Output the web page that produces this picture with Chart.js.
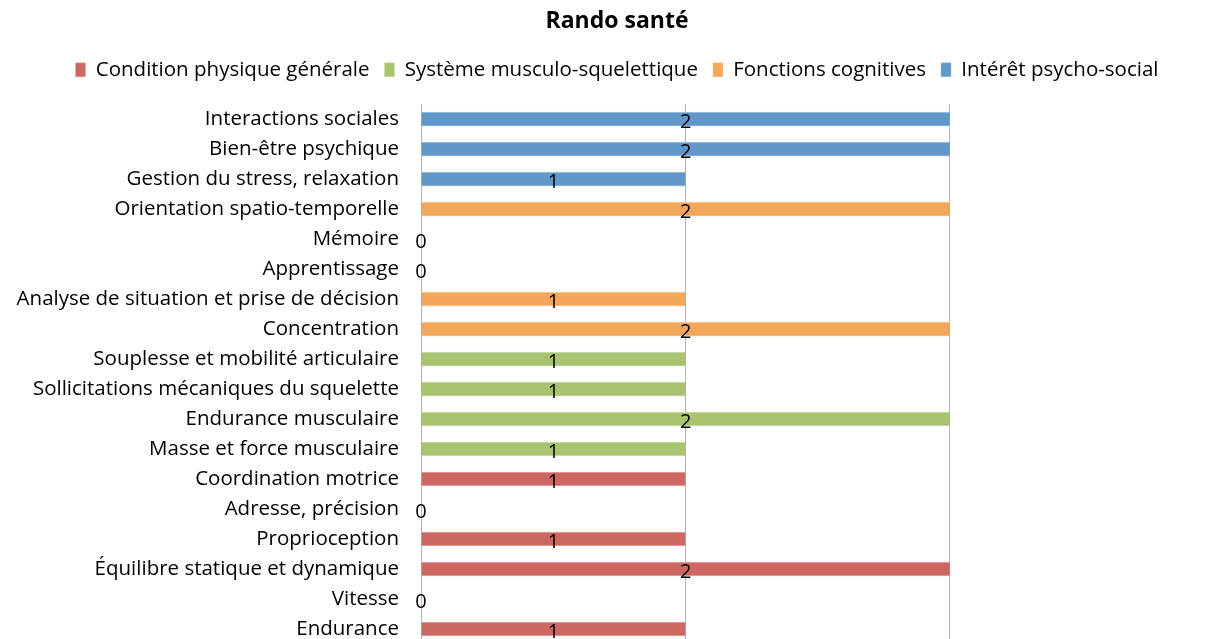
<!DOCTYPE html>
<html>
<head>
<meta charset="utf-8">
<script src="https://cdn.jsdelivr.net/npm/chart.js@4/dist/chart.umd.min.js"></script>
<style>
  html, body { margin: 0; padding: 0; background: #fff; overflow: hidden; }
  #wrap { width: 1234px; height: 684px; }
</style>
</head>
<body>
<div id="wrap"><canvas id="c" width="1234" height="684"></canvas></div>
<script>
// Health benefits of "Rando santé", scored 0–2, grouped by theme
const categories = [
  'Interactions sociales',
  'Bien-être psychique',
  'Gestion du stress, relaxation',
  'Orientation spatio-temporelle',
  'Mémoire',
  'Apprentissage',
  'Analyse de situation et prise de décision',
  'Concentration',
  'Souplesse et mobilité articulaire',
  'Sollicitations mécaniques du squelette',
  'Endurance musculaire',
  'Masse et force musculaire',
  'Coordination motrice',
  'Adresse, précision',
  'Proprioception',
  'Équilibre statique et dynamique',
  'Vitesse',
  'Endurance'
];

const seriesNames = [
  'Condition physique générale',
  'Système musculo-squelettique',
  'Fonctions cognitives',
  'Intérêt psycho-social'
];

const conditionPhysique = [null, null, null, null, null, null, null, null, null, null, null, null, 1, 0, 1, 2, 0, 1];
const musculoSquelettique = [null, null, null, null, null, null, null, null, 1, 1, 2, 1, null, null, null, null, null, null];
const fonctionsCognitives = [null, null, null, 2, 0, 0, 1, 2, null, null, null, null, null, null, null, null, null, null];
const psychoSocial = [2, 2, 1, null, null, null, null, null, null, null, null, null, null, null, null, null, null, null];

const xTicks = [0, 1, 2, 3];

const colors = ['#CD6762', '#A9C46E', '#F3A75A', '#6297CA'];
const edgeColors = ['#E3A8A5', '#CFDFB0', '#F8CFA3', '#A9C4E2'];

const seriesData = [conditionPhysique, musculoSquelettique, fonctionsCognitives, psychoSocial];

const FONT = '"Open Sans", Lato, sans-serif';

// Extra gap between the legend and the plot
const legendGap = {
  id: 'legendGap',
  beforeInit(chart) {
    const fit = chart.legend.fit;
    chart.legend.fit = function () {
      fit.call(this);
      this.height += 14;
    };
  }
};

// Value labels drawn in the middle of each bar
const valueLabels = {
  id: 'valueLabels',
  afterDatasetsDraw(chart) {
    const ctx = chart.ctx;
    ctx.save();
    ctx.font = '20px ' + FONT;
    ctx.fillStyle = '#000';
    ctx.textAlign = 'center';
    ctx.textBaseline = 'middle';
    chart.data.datasets.forEach((ds, i) => {
      const meta = chart.getDatasetMeta(i);
      meta.data.forEach((bar, j) => {
        const v = ds.data[j];
        if (v === null || v === undefined) return;
        const props = bar.getProps(['x', 'y', 'base'], true);
        const cx = (props.x + props.base) / 2;
        ctx.fillText(String(v), cx, props.y + 3);
      });
    });
    ctx.restore();
  }
};

new Chart(document.getElementById('c'), {
  type: 'bar',
  data: {
    labels: categories,
    datasets: seriesNames.map((name, i) => ({
      label: name,
      data: seriesData[i],
      backgroundColor: colors[i],
      borderColor: edgeColors[i],
      borderWidth: { top: 1, bottom: 1, left: 0, right: 0 },
      borderSkipped: false,
      barThickness: 14
    }))
  },
  options: {
    indexAxis: 'y',
    responsive: false,
    animation: false,
    layout: { padding: { left: 0, right: 0, top: 0, bottom: 0 } },
    plugins: {
      title: {
        display: true,
        text: 'Rando santé',
        color: '#000',
        font: { family: FONT, size: 23, weight: 'bold' },
        padding: { top: 8, bottom: 9 }
      },
      legend: {
        display: true,
        position: 'top',
        labels: {
          color: '#000',
          font: { family: FONT, size: 20.5 },
          boxWidth: 10,
          boxHeight: 14,
          padding: 15
        }
      },
      tooltip: { enabled: false }
    },
    scales: {
      x: {
        stacked: true,
        min: 0,
        max: 3.075,
        afterBuildTicks(scale) {
          scale.ticks = xTicks.map(v => ({ value: v }));
        },
        grid: { color: '#B3B3B3', lineWidth: 1, drawTicks: false },
        border: { display: false },
        ticks: { color: '#000', font: { family: FONT, size: 20 }, padding: 8 }
      },
      y: {
        stacked: true,
        afterFit(scale) { scale.width = 421; },
        grid: { display: false, drawTicks: false },
        border: { display: true, color: '#B3B3B3', width: 1 },
        ticks: { color: '#000', font: { family: FONT, size: 20.5 }, padding: 22, autoSkip: false }
      }
    }
  },
  plugins: [legendGap, valueLabels]
});
</script>
</body>
</html>
